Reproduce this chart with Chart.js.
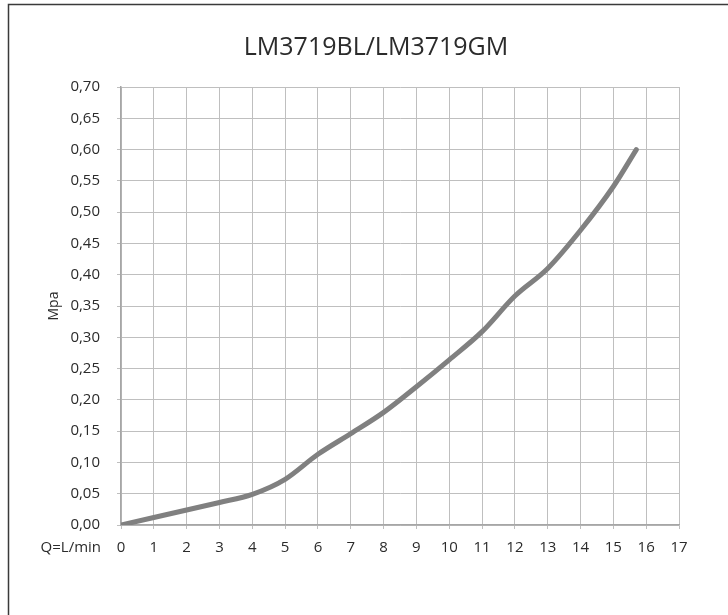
<!DOCTYPE html>
<html>
<head>
<meta charset="utf-8">
<script src="https://cdn.jsdelivr.net/npm/chart.js@4/dist/chart.umd.min.js"></script>
<style>
html,body{margin:0;padding:0;background:#fff;}
#wrap{width:728px;height:615px;position:relative;}
</style>
</head>
<body>
<div id="wrap"><canvas id="c" width="728" height="615"></canvas></div>
<script>
const chartTitle = 'LM3719BL/LM3719GM';
const xAxisLabel = 'Q=L/min';
const yAxisLabel = 'Mpa';
const flowValues = [0, 1, 2, 3, 4, 5, 6, 7, 8, 9, 10, 11, 12, 13, 14, 15, 15.7];
const pressureValues = [0, 0.012, 0.024, 0.036, 0.049, 0.073, 0.113, 0.146, 0.180, 0.221, 0.264, 0.309, 0.366, 0.410, 0.471, 0.541, 0.60];
const xTickValues = [0,1,2,3,4,5,6,7,8,9,10,11,12,13,14,15,16,17];
const yTickValues = [0,0.05,0.10,0.15,0.20,0.25,0.30,0.35,0.40,0.45,0.50,0.55,0.60,0.65,0.70];

const FONT = '"Open Sans", "Noto Sans", sans-serif';
const TEXT = '#2b2b2b';

const extras = {
  id: 'extras',
  beforeDraw(chart) {
    const ctx = chart.ctx;
    ctx.save();
    ctx.fillStyle = '#ffffff';
    ctx.fillRect(0, 0, chart.width, chart.height);
    ctx.strokeStyle = '#3a3a3a';
    ctx.lineWidth = 1.5;
    ctx.beginPath();
    ctx.moveTo(8.5, chart.height);
    ctx.lineTo(8.5, 4.5);
    ctx.lineTo(chart.width, 4.5);
    ctx.stroke();
    ctx.restore();
  },
  afterDraw(chart) {
    const ctx = chart.ctx;
    ctx.save();
    ctx.fillStyle = TEXT;
    ctx.textAlign = 'center';
    ctx.textBaseline = 'middle';
    ctx.font = '25px ' + FONT;
    ctx.fillText(chartTitle, 376, 48);
    ctx.font = '15px ' + FONT;
    ctx.textAlign = 'right';
    ctx.fillText(xAxisLabel, 101, 548);
    ctx.restore();
  }
};

const points = flowValues.map((x, i) => ({x: x, y: pressureValues[i]}));

new Chart(document.getElementById('c'), {
  type: 'line',
  data: {
    datasets: [{
      data: points,
      borderColor: '#808080',
      borderWidth: 5,
      borderCapStyle: 'round',
      borderJoinStyle: 'round',
      pointRadius: 0,
      fill: false,
      cubicInterpolationMode: 'monotone'
    }]
  },
  options: {
    responsive: false,
    animation: false,
    devicePixelRatio: 1,
    layout: {padding: {left: 0, right: 49, top: 87, bottom: 0}},
    plugins: {legend: {display: false}, title: {display: false}, tooltip: {enabled: false}},
    scales: {
      x: {
        type: 'linear',
        min: 0, max: 17,
        afterBuildTicks: s => { s.ticks = xTickValues.map(v => ({value: v})); },
        afterFit: s => { s.height = 90; },
        ticks: {color: TEXT, font: {family: FONT, size: 15}, padding: 10, maxRotation: 0, autoSkip: false,
          callback: v => String(v)},
        grid: {color: '#bfbfbf', lineWidth: 1, tickLength: 4},
        border: {color: '#a6a6a6', width: 1.5}
      },
      y: {
        type: 'linear',
        min: 0, max: 0.7,
        afterBuildTicks: s => { s.ticks = yTickValues.map(v => ({value: v})); },
        afterFit: s => { s.width = 121; },
        ticks: {color: TEXT, font: {family: FONT, size: 15}, padding: 17, autoSkip: false,
          callback: v => Number(v).toFixed(2).replace('.', ',')},
        grid: {color: '#bfbfbf', lineWidth: 1, tickLength: 4},
        border: {color: '#a6a6a6', width: 1.5},
        title: {display: true, text: yAxisLabel, color: TEXT, font: {family: FONT, size: 14}, padding: {top: 46, bottom: 0}}
      }
    }
  },
  plugins: [extras]
});
</script>
</body>
</html>
